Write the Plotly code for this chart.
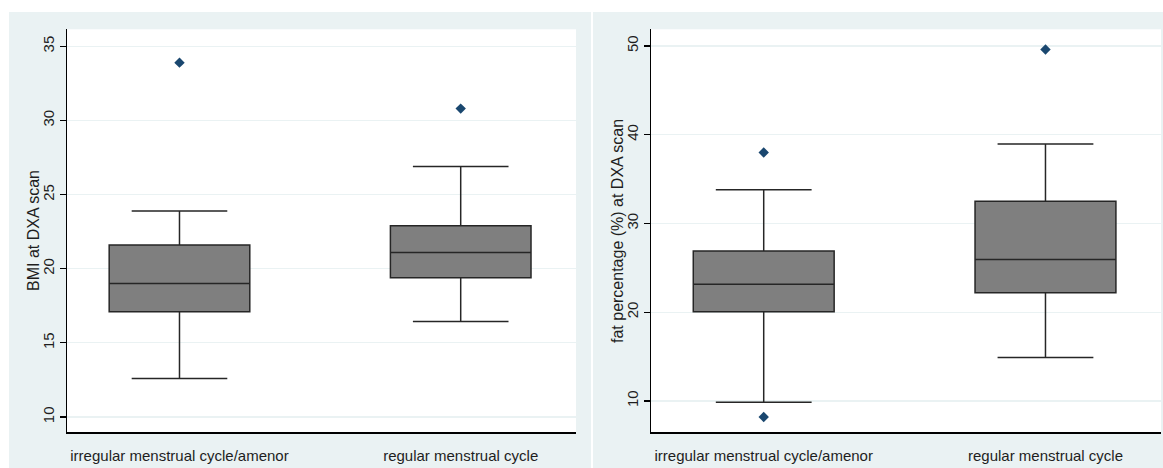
import plotly.graph_objects as go

W, H = 1163, 468
categories = ["irregular menstrual cycle/amenor", "regular menstrual cycle"]

# BMI at DXA scan
bmi_lower = [12.6, 16.45]
bmi_q1 = [17.1, 19.4]
bmi_median = [19.0, 21.1]
bmi_q3 = [21.6, 22.9]
bmi_upper = [23.9, 26.9]
bmi_out_x = [categories[0], categories[1]]
bmi_out_y = [33.9, 30.8]

# fat percentage (%) at DXA scan
fat_lower = [9.85, 14.9]
fat_q1 = [20.05, 22.2]
fat_median = [23.15, 25.95]
fat_q3 = [26.9, 32.5]
fat_upper = [33.8, 38.95]
fat_out_x = [categories[0], categories[0], categories[1]]
fat_out_y = [38.0, 8.2, 49.6]

bmi_ticks = [10, 15, 20, 25, 30, 35]
fat_ticks = [10, 20, 30, 40, 50]

BG = "#eaf2f3"
BOX_FILL = "#7f7f7f"
BOX_LINE = "#262626"
MARK = "#1a476f"
FONT = "Liberation Sans, Arial, sans-serif"
TXT = "#1e1e1e"

fig = go.Figure()

def px_x(p):
    return p / W

def px_y(p):
    return 1 - p / H

def add_panel(xa, ya, lower, q1, med, q3, upper, ox, oy):
    fig.add_trace(go.Box(
        x=categories, q1=q1, median=med, q3=q3,
        lowerfence=lower, upperfence=upper,
        width=0.5, whiskerwidth=0.68,
        fillcolor=BOX_FILL, line=dict(color=BOX_LINE, width=1.5),
        boxpoints=False, showlegend=False, hoverinfo="y",
        xaxis=xa, yaxis=ya,
    ))
    fig.add_trace(go.Scatter(
        x=ox, y=oy, mode="markers",
        marker=dict(symbol="diamond", size=8, color=MARK),
        showlegend=False, xaxis=xa, yaxis=ya,
    ))

add_panel("x", "y", bmi_lower, bmi_q1, bmi_median, bmi_q3, bmi_upper, bmi_out_x, bmi_out_y)
add_panel("x2", "y2", fat_lower, fat_q1, fat_median, fat_q3, fat_upper, fat_out_x, fat_out_y)

xcommon = dict(
    type="category", categoryorder="array", categoryarray=categories,
    range=[-0.4, 1.41], showgrid=False, zeroline=False,
    showline=True, linecolor="#000000", linewidth=1.3,
    ticks="outside", ticklen=9, tickcolor="rgba(0,0,0,0)",
    tickfont=dict(family=FONT, size=15, color=TXT),
    fixedrange=True,
)
ycommon = dict(
    showgrid=True, gridcolor=BG, gridwidth=1.2, zeroline=False,
    showline=True, linecolor="#000000", linewidth=1.3,
    ticks="outside", ticklen=6, tickcolor="#000000", tickwidth=1.2,
    tickangle=-90,
    tickfont=dict(family=FONT, size=15, color=TXT),
    fixedrange=True,
)

top = 29.3
bottom = 432.3
white_strips = [
    (0, W, 0, 12),        # top strip
    (0, 9, 0, H),         # left strip
    (591, 593, 0, H),     # gap between panels
]
fig.update_layout(
    width=W, height=H,
    margin=dict(l=0, r=0, t=0, b=0),
    paper_bgcolor=BG, plot_bgcolor="white",
    boxmode="overlay",
    xaxis=dict(domain=[px_x(67), px_x(576)], anchor="y", **xcommon),
    yaxis=dict(domain=[px_y(bottom), px_y(top)], anchor="x",
               range=[8.97, 36.15], tickvals=bmi_ticks, **ycommon),
    xaxis2=dict(domain=[px_x(651), px_x(1161)], anchor="y2", **xcommon),
    yaxis2=dict(domain=[px_y(bottom), px_y(top)], anchor="x2",
                range=[6.47, 51.88], tickvals=fat_ticks, **ycommon),
    shapes=[
        dict(type="rect", xref="paper", yref="paper", layer="below",
             x0=px_x(a), x1=px_x(b), y0=px_y(d), y1=px_y(c),
             fillcolor="white", line=dict(width=0))
        for (a, b, c, d) in white_strips
    ],
    annotations=[
        dict(text="BMI at DXA scan", xref="paper", yref="paper",
             x=px_x(33), y=px_y(231), textangle=-90, showarrow=False,
             xanchor="center", yanchor="middle",
             font=dict(family=FONT, size=16, color=TXT)),
        dict(text="fat percentage (%) at DXA scan", xref="paper", yref="paper",
             x=px_x(617), y=px_y(231), textangle=-90, showarrow=False,
             xanchor="center", yanchor="middle",
             font=dict(family=FONT, size=16, color=TXT)),
    ],
)

fig.write_html(
    "out.html",
    config={"displayModeBar": False, "staticPlot": True},
    post_script="document.body.style.margin='0';document.body.style.padding='0';document.body.style.overflow='hidden';",
)
